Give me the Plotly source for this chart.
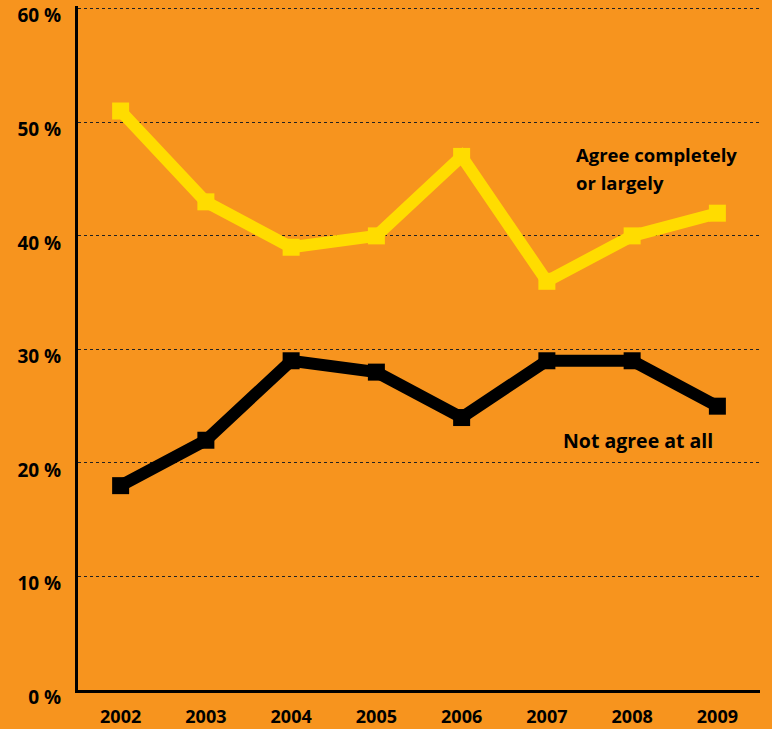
import plotly.graph_objects as go

years = [2002, 2003, 2004, 2005, 2006, 2007, 2008, 2009]
agree = [51, 43, 39, 40, 47, 36, 40, 42]
not_agree = [18, 22, 29, 28, 24, 29, 29, 25]
y_ticks = [0, 10, 20, 30, 40, 50, 60]
y_tick_labels = [f"{v} %" for v in y_ticks]
agree_label_lines = ["Agree completely", "or largely"]
not_agree_label = "Not agree at all"

BG = "#F7941E"
YELLOW = "#FFDC00"
FONT = "Open Sans"

fig = go.Figure()
fig.add_trace(go.Scatter(x=years, y=agree, mode="lines+markers",
                         line=dict(color=YELLOW, width=12),
                         marker=dict(symbol="square", size=17, color=YELLOW),
                         showlegend=False, cliponaxis=False))
fig.add_trace(go.Scatter(x=years, y=not_agree, mode="lines+markers",
                         line=dict(color="black", width=12),
                         marker=dict(symbol="square", size=17, color="black"),
                         showlegend=False, cliponaxis=False))

for txt, yv in zip(agree_label_lines, [47.14, 44.67]):
    fig.add_annotation(x=2007.32, y=yv, xref="x", yref="y", text=txt,
                       showarrow=False, xanchor="left", yanchor="middle", align="left",
                       font=dict(family=FONT, size=18.5, color="black", weight="bold"))
fig.add_annotation(x=2007.17, y=21.94, xref="x", yref="y", text=not_agree_label,
                   showarrow=False, xanchor="left", yanchor="middle", align="left",
                   font=dict(family=FONT, size=19.5, color="black", weight="bold"))

fig.update_layout(
    width=772, height=729,
    margin=dict(l=78, r=12, t=6, b=39),
    paper_bgcolor=BG, plot_bgcolor=BG,
    font=dict(family=FONT, size=18, color="black", weight="bold"),
    xaxis=dict(range=[2001.5, 2009.5], tickvals=years, ticktext=[str(y) for y in years],
               showgrid=False, zeroline=False, showline=True, linecolor="black", linewidth=3,
               ticks="", ticklabelstandoff=8, automargin=False,
               tickfont=dict(family=FONT, size=18, color="black", weight="bold")),
    yaxis=dict(range=[0, 60.25], tickvals=y_ticks, ticktext=y_tick_labels,
               showgrid=True, gridcolor="#222222", gridwidth=1, griddash="3px,3px",
               zeroline=False, showline=True, linecolor="black", linewidth=3,
               ticks="", ticklabelstandoff=10, ticklabelshift=7, automargin=False,
               tickfont=dict(family=FONT, size=19, color="black", weight="bold")),
)

fig.write_html("out.html")
